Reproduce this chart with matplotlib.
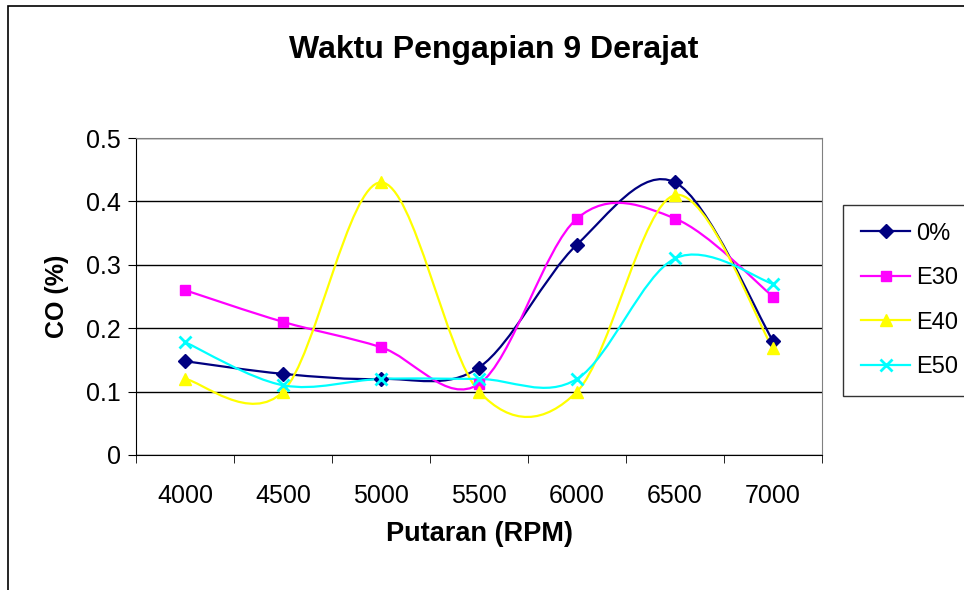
import matplotlib.pyplot as plt
import numpy as np
from matplotlib.path import Path
from matplotlib.patches import PathPatch, Rectangle

plt.rcParams['font.family'] = ['Liberation Sans', 'DejaVu Sans']

# Data
rpm = ['4000', '4500', '5000', '5500', '6000', '6500', '7000']
co_0 = [0.148, 0.128, 0.12, 0.138, 0.332, 0.43, 0.18]
co_e30 = [0.26, 0.21, 0.17, 0.112, 0.373, 0.373, 0.25]
co_e40 = [0.12, 0.1, 0.43, 0.1, 0.1, 0.41, 0.168]
co_e50 = [0.178, 0.11, 0.12, 0.12, 0.12, 0.31, 0.27]

series = [
    ('0%', co_0, '#000080', 'D', 7),
    ('E30', co_e30, '#FF00FF', 's', 7.5),
    ('E40', co_e40, '#FFFF00', '^', 8.5),
    ('E50', co_e50, '#00FFFF', 'x', 9),
]


def smooth_path(xs, ys):
    # Excel-style smoothed line: cubic Bezier through each point
    pts = np.column_stack([xs, ys]).astype(float)
    n = len(pts)
    verts = [pts[0]]
    codes = [Path.MOVETO]
    for i in range(n - 1):
        p0 = pts[i - 1] if i > 0 else pts[i]
        p1 = pts[i]
        p2 = pts[i + 1]
        p3 = pts[i + 2] if i + 2 < n else pts[i + 1]
        c1 = p1 + (p2 - p0) / 6.0
        c2 = p2 - (p3 - p1) / 6.0
        verts += [c1, c2, p2]
        codes += [Path.CURVE4] * 3
    return Path(verts, codes)


fig = plt.figure(figsize=(9.64, 5.90), dpi=100)
fig.patches.append(Rectangle((8 / 964, -0.1), 1.2, 1 - 6 / 590 + 0.1,
                             transform=fig.transFigure, fill=False,
                             edgecolor='black', linewidth=1.2))

ax = fig.add_axes([136 / 964, 1 - 455 / 590, (822 - 136) / 964, (455 - 138) / 590])
x = np.arange(len(rpm))

for name, vals, color, marker, ms in series:
    ax.add_patch(PathPatch(smooth_path(x, vals), facecolor='none',
                           edgecolor=color, linewidth=1.6, zorder=3))
    ax.plot(x, vals, linestyle='none', marker=marker, color=color,
            markersize=ms, markeredgewidth=2 if marker == 'x' else 1,
            zorder=4)
    # legend proxy
    ax.plot([], [], color=color, marker=marker, markersize=ms,
            linewidth=1.6, markeredgewidth=2 if marker == 'x' else 1,
            label=name)

ax.set_xlim(-0.5, 6.5)
ax.set_ylim(0, 0.5)
ax.set_yticks([0, 0.1, 0.2, 0.3, 0.4, 0.5])
ax.set_yticklabels(['0', '0.1', '0.2', '0.3', '0.4', '0.5'], fontsize=18)
ax.set_xticks(x)
ax.set_xticklabels(rpm, fontsize=18)
ax.set_xticks(np.arange(-0.5, 7, 1), minor=True)
ax.tick_params(axis='x', which='major', length=0, pad=21)
ax.tick_params(axis='x', which='minor', length=6, direction='out', color='black')
ax.tick_params(axis='y', length=6, direction='out', pad=5)
ax.grid(axis='y', color='black', linewidth=1)
ax.set_axisbelow(True)

for side in ['top', 'right']:
    ax.spines[side].set_color('#808080')
ax.spines['left'].set_color('black')
ax.spines['bottom'].set_color('black')

ax.set_xlabel('Putaran (RPM)', fontsize=19.5, fontweight='bold', labelpad=9)
ax.set_ylabel('CO (%)', fontsize=18, fontweight='bold', labelpad=12)

fig.text(494 / 964, 1 - 50 / 590, 'Waktu Pengapian 9 Derajat', fontsize=23,
         fontweight='bold', ha='center', va='center')

leg = ax.legend(loc='upper left', bbox_to_anchor=(843 / 964, 1 - 205 / 590),
                bbox_transform=fig.transFigure, borderaxespad=0, fontsize=17,
                frameon=True, fancybox=False, edgecolor='black',
                handlelength=2.1, borderpad=0.75, labelspacing=0.95,
                handletextpad=0.25)
leg.get_frame().set_linewidth(1)

fig.savefig('out.png', dpi=100)
